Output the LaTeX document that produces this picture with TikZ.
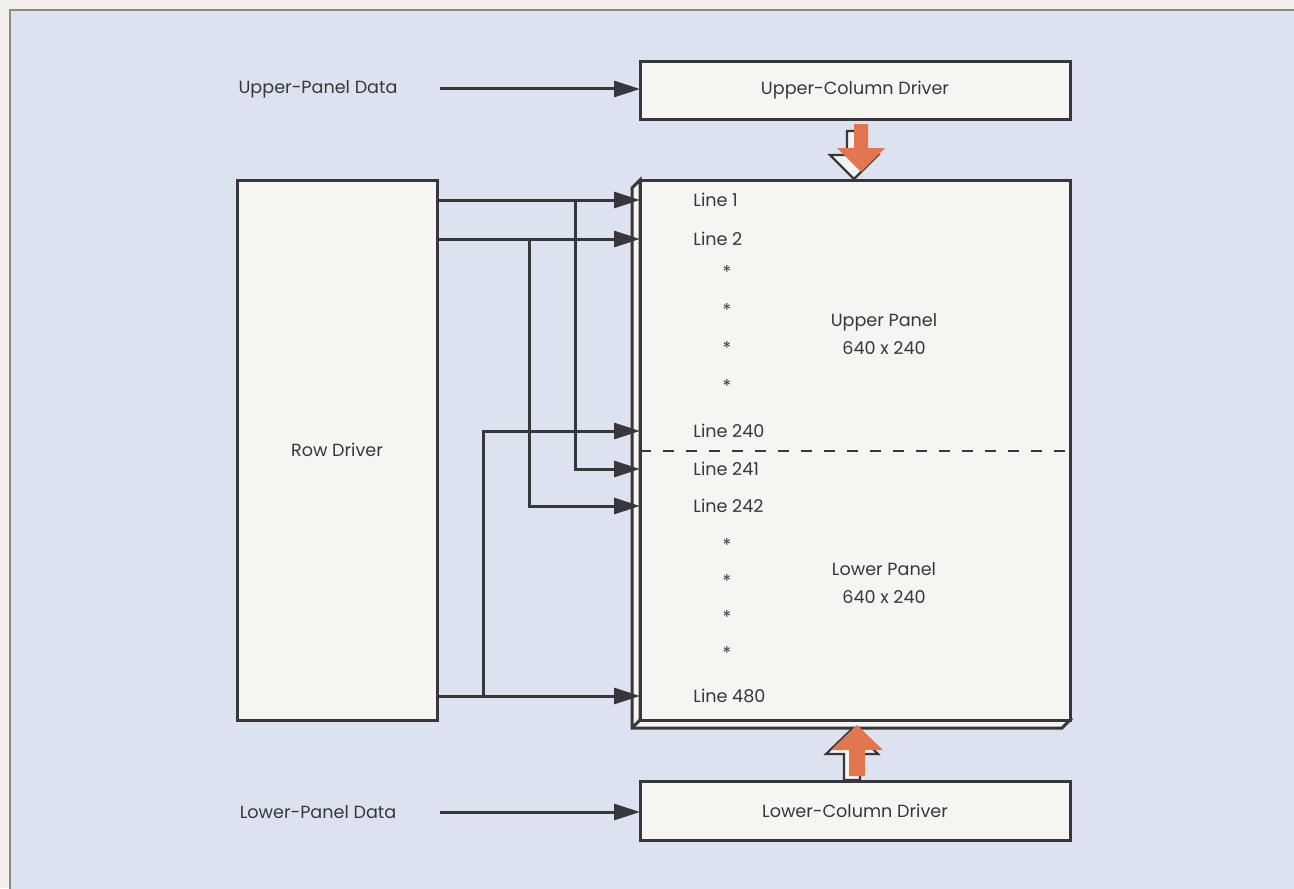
\documentclass[tikz,border=0pt]{standalone}
\usepackage{fontspec}
\setsansfont{Poppins}
\usetikzlibrary{arrows.meta}
\definecolor{lcdPaper}{HTML}{F2F0EA}
\definecolor{lcdBack}{HTML}{DCE2EF}
\definecolor{lcdFace}{HTML}{F6F5F2}
\definecolor{lcdInk}{HTML}{38383C}
\definecolor{lcdOrange}{HTML}{E2774F}
\tikzset{
  lcd box/.style={draw=lcdInk, fill=lcdFace, line width=1.5pt, inner sep=0pt, outer sep=0pt},
  lcd conn/.style={draw=lcdInk, line width=1.5pt},
  lcd arrow/.style={lcd conn, -{Triangle[length=13pt,width=8pt]}},
  lcd label/.style={font=\sffamily\fontsize{8.8}{14}\selectfont, text=lcdInk, inner sep=0pt},
  lcd back/.style={fill=lcdFace, draw=lcdInk, line width=1.1pt},
  lcd front/.style={fill=lcdOrange},
}

\begin{document}
\begin{tikzpicture}[x=0.5pt,y=-0.5pt]
  \useasboundingbox (0,0) rectangle (1294,888);
  \fill[lcdPaper] (0,0) rectangle (1294,888);
  \filldraw[fill=lcdBack, draw=lcdInk!60, line width=0.6pt] (10,10) rectangle (1310,910);

  % drivers
  \node[lcd box, lcd label, minimum width=215pt, minimum height=28.5pt] (ucol) at (855,90.5) {Upper-Column Driver};
  \node[lcd box, lcd label, minimum width=215pt, minimum height=29.5pt] (lcol) at (855,810.5) {Lower-Column Driver};
  \node[lcd box, lcd label, minimum width=100pt, minimum height=270pt] (rowdrv) at (337,450) {Row Driver};

  % panel with its edge
  \filldraw[lcd conn, fill=lcdFace] (640,180) -- (632,188) -- (632,728) -- (1062,728) -- (1070,720) -- (640,720) -- cycle;
  \draw[lcd conn] (640,720) -- (632,728);
  \node[lcd box, minimum width=215pt, minimum height=270pt] (panel) at (855,450) {};
  \coordinate (mid) at (855,451);
  \draw[lcd conn, line width=1.2pt, dash pattern=on 5.5pt off 6pt] (panel.west |- mid) -- (panel.east |- mid);

  \foreach \n/\y in {1/200,2/239,240/431,241/469,242/506,480/696}
    \node[lcd label, anchor=west] (l\n) at (693,\y) {Line \n};
  \foreach \y in {272,310,348,386,545,581,617,653}
    \node[lcd label] (s\y) at (727,\y) {*};
  \node[lcd label, align=center] (upname) at (884,334) {Upper Panel\\640 x 240};
  \node[lcd label, align=center] (loname) at (884,583) {Lower Panel\\640 x 240};

  % data inputs
  \node[lcd label] (updata) at (318,89) {Upper-Panel Data};
  \node[lcd label] (lodata) at (318,812) {Lower-Panel Data};
  \coordinate (upin) at (440,89);
  \coordinate (loin) at (440,812);
  \draw[lcd arrow] (upin) -- (upin -| ucol.west);
  \draw[lcd arrow] (loin) -- (loin -| lcol.west);

  % row lines
  \coordinate (tapA) at (575,0);
  \coordinate (tapB) at (529,0);
  \coordinate (tapC) at (483,0);
  \draw[lcd arrow] (rowdrv.east |- l1) -- (panel.west |- l1);
  \draw[lcd arrow] (tapA |- l1) |- (panel.west |- l241);
  \draw[lcd arrow] (rowdrv.east |- l2) -- (panel.west |- l2);
  \draw[lcd arrow] (tapB |- l2) |- (panel.west |- l242);
  \draw[lcd arrow] (rowdrv.east |- l480) -- (panel.west |- l480);
  \draw[lcd arrow] (tapC |- l480) |- (panel.west |- l240);

  % column data into the panel
  \foreach \dx/\dy/\layer in {-7/7/lcd back,0/0/lcd front}
    \path[\layer, shift={(\dx,\dy)}] (854,124) -- (868,124) -- (868,148) -- (885,148) -- (861,172) -- (837,148) -- (854,148) -- cycle;
  \foreach \dx/\dy/\layer in {-5/4/lcd back,0/0/lcd front}
    \path[\layer, shift={(\dx,\dy)}] (849,776) -- (865,776) -- (865,750) -- (883,750) -- (857,725) -- (831,750) -- (849,750) -- cycle;
\end{tikzpicture}
\end{document}
